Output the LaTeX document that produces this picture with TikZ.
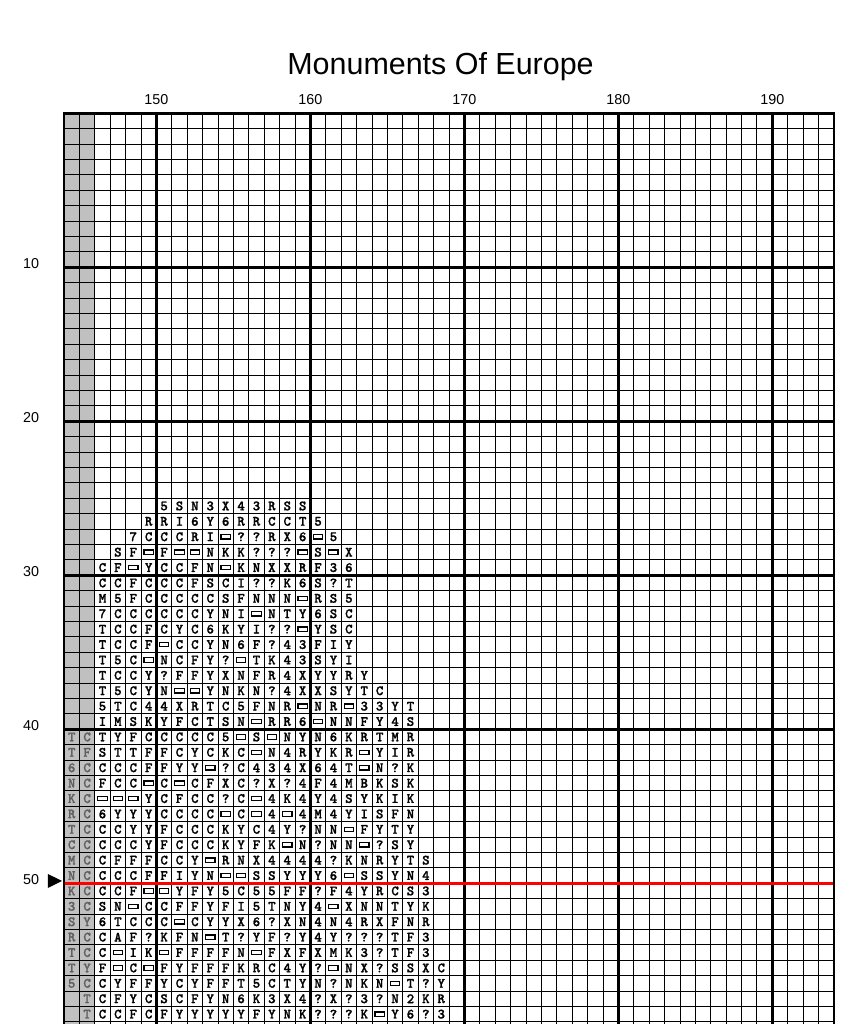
\documentclass[tikz,border=0pt]{standalone}
\usepackage{fontspec}
\setmainfont{Liberation Sans}
\newfontfamily\chartfont{lmmonolt10-bold.otf}[AutoFakeBold=1.2]
\usetikzlibrary{calc}

\definecolor{overlapgray}{HTML}{C0C0C0}
\definecolor{overlapsym}{HTML}{606060}
\definecolor{centrered}{HTML}{FF0000}

\tikzset{
  thinline/.style={line width=0.7pt},
  thickline/.style={line width=2.4pt},
  chartsym/.style={font=\chartfont\bfseries\fontsize{10.5}{10.5}\selectfont, inner sep=0pt},
  boxsym/.style={line width=0.9pt},
  axislabel/.style={font=\fontsize{10.6}{12}\selectfont, inner sep=0pt, anchor=base},
}

\def\boxmark{o}

\begin{document}
\begin{tikzpicture}[x=0.4cm,y=0.4cm]
    \clip (-4.156,7.357) rectangle (51.88,-59.14);

    \node[font=\fontsize{22.5}{26}\selectfont, anchor=base] (title) at (24.45,2.49) {Monuments Of Europe};

    % overlap columns from the previous page
    \fill[overlapgray] (0,0) rectangle (2,-60);

    % grid
    \foreach \x in {1,...,49}{
        \draw[thinline] (\x,0)--(\x,-60);
    }
    \foreach \y in {1,...,60}{
        \draw[thinline] (0,-\y)--(50,-\y);
    }
    \foreach \x/\lab in {6/150,16/160,26/170,36/180,46/190}{
        \draw[thickline] (\x,0)--(\x,-60);
        \node[axislabel] (col\lab) at (\x,0.6) {\lab};
    }
    \foreach \y in {10,20,30,40}{
        \draw[thickline] (0,-\y)--(50,-\y);
        \node[axislabel] (row\y) at (-2.14,-\y-0.1) {\y};
    }
    \draw[line width=2.4pt,centrered] (0,-50)--(50,-50);
    \node[axislabel] (row50) at (-2.14,-50.1) {50};
    \fill (-1.04,-49.4)--(-0.13,-49.85)--(-1.04,-50.3)--cycle;

    \draw[line width=1.8pt] (0,-60)--(0,0)--(50,0)--(50,-60);

    % overlap symbols
    \foreach \rw/\a/\b in {41/T/C,42/T/F,43/6/C,44/N/C,45/K/C,46/R/C,47/T/C,48/C/C,49/M/C,
                           50/N/C,51/K/C,52/3/C,53/S/Y,54/R/C,55/T/C,56/T/Y,57/5/C}{
        \node[chartsym,text=overlapsym] (g\rw-a) at (0.5,-\rw+0.5) {\a};
        \node[chartsym,text=overlapsym] (g\rw-b) at (1.5,-\rw+0.5) {\b};
    }
    \node[chartsym,text=overlapsym] (g58-b) at (1.5,-57.5) {T};
    \node[chartsym,text=overlapsym] (g59-b) at (1.5,-58.5) {T};

    % chart symbols, o = box
    \foreach \rw/\st/\row in {
        26/6/{5,S,N,3,X,4,3,R,S,S},
        27/5/{R,R,I,6,Y,6,R,R,C,C,T,5},
        28/4/{7,C,C,C,R,I,o,?,?,R,X,6,o,5},
        29/3/{S,F,o,F,o,o,N,K,K,?,?,?,o,S,o,X},
        30/2/{C,F,o,Y,C,C,F,N,o,K,N,X,X,R,F,3,6},
        31/2/{C,C,F,C,C,C,F,S,C,I,?,?,K,6,S,?,T},
        32/2/{M,5,F,C,C,C,C,C,S,F,N,N,N,o,R,S,5},
        33/2/{7,C,C,C,C,C,C,Y,N,I,o,N,T,Y,6,S,C},
        34/2/{T,C,C,F,C,Y,C,6,K,Y,I,?,?,o,Y,S,C},
        35/2/{T,C,C,F,o,C,C,Y,N,6,F,?,4,3,F,I,Y},
        36/2/{T,5,C,o,N,C,F,Y,?,o,T,K,4,3,S,Y,I},
        37/2/{T,C,C,Y,?,F,F,Y,X,N,F,R,4,X,Y,Y,R,Y},
        38/2/{T,5,C,Y,N,o,o,Y,N,K,N,?,4,X,X,S,Y,T,C},
        39/2/{5,T,C,4,4,X,R,T,C,5,F,N,R,o,N,R,o,3,3,Y,T},
        40/2/{I,M,S,K,Y,F,C,T,S,N,o,R,R,6,o,N,N,F,Y,4,S},
        41/2/{T,Y,F,C,C,C,C,C,5,o,S,o,N,Y,N,6,K,R,T,M,R},
        42/2/{S,T,T,F,F,C,Y,C,K,C,o,N,4,R,Y,K,R,o,Y,I,R},
        43/2/{C,C,C,F,F,Y,Y,o,?,C,4,3,4,X,6,4,T,o,N,?,K},
        44/2/{F,C,C,o,C,o,C,F,X,C,?,X,?,4,F,4,M,B,K,S,K},
        45/2/{o,o,o,Y,C,F,C,C,?,C,o,4,K,4,Y,4,S,Y,K,I,K},
        46/2/{6,Y,Y,Y,C,C,C,C,o,C,o,4,o,4,M,4,Y,I,S,F,N},
        47/2/{C,C,Y,Y,F,C,C,C,K,Y,C,4,Y,?,N,N,o,F,Y,T,Y},
        48/2/{C,C,C,Y,F,C,C,C,K,Y,F,K,o,N,?,N,N,o,?,S,Y},
        49/2/{C,F,F,F,C,C,Y,o,R,N,X,4,4,4,4,?,K,N,R,Y,T,S},
        50/2/{C,C,C,F,F,I,Y,N,o,o,S,S,Y,Y,Y,6,o,S,S,Y,N,4},
        51/2/{C,C,F,o,o,Y,F,Y,5,C,5,5,F,F,?,F,4,Y,R,C,S,3},
        52/2/{S,N,o,C,C,F,F,Y,F,I,5,T,N,Y,4,o,X,N,N,T,Y,K},
        53/2/{6,T,C,C,C,o,C,Y,Y,X,6,?,X,N,4,N,4,R,X,F,N,R},
        54/2/{C,A,F,?,K,F,N,o,T,?,Y,F,?,Y,4,Y,?,?,?,T,F,3},
        55/2/{C,o,I,K,o,F,F,F,F,N,o,F,X,F,X,M,K,3,?,T,F,3},
        56/2/{F,o,C,o,F,Y,F,F,F,K,R,C,4,Y,?,o,N,X,?,S,S,X,C},
        57/2/{C,Y,F,F,Y,C,Y,F,F,T,5,C,T,Y,N,?,N,K,N,o,T,?,Y},
        58/2/{C,F,Y,C,S,C,F,Y,N,6,K,3,X,4,?,X,?,3,?,N,2,K,R},
        59/2/{C,C,F,C,F,Y,Y,Y,Y,Y,F,Y,N,K,?,?,?,K,o,Y,6,?,3}}{
        \foreach \sym [count=\i from 0] in \row {
            \edef\tmpsym{\sym}
            \ifx\tmpsym\boxmark
                \draw[boxsym] ($(\st+\i+0.5,-\rw+0.5)+(-0.3,-0.14)$) rectangle ++(0.6,0.28);
            \else
                \node[chartsym] (s\rw-\i) at (\st+\i+0.5,-\rw+0.5) {\sym};
            \fi
        }
    }

\end{tikzpicture}
\end{document}
